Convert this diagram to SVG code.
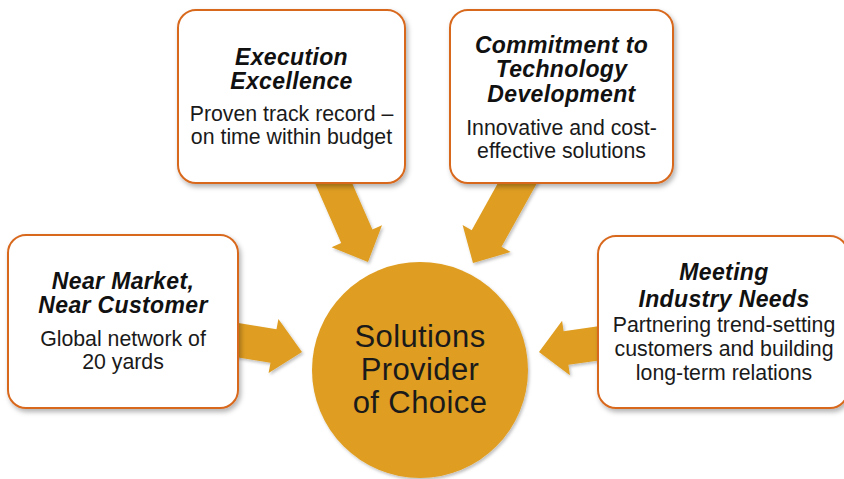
<svg xmlns="http://www.w3.org/2000/svg" width="844" height="479" viewBox="0 0 844 479">
  <defs>
    <filter id="sh" x="-10%" y="-10%" width="125%" height="130%">
      <feDropShadow dx="2" dy="3" stdDeviation="2.5" flood-color="#000" flood-opacity="0.3"/>
    </filter>
    <filter id="ash" x="-20%" y="-20%" width="140%" height="140%">
      <feDropShadow dx="1.5" dy="2" stdDeviation="1.5" flood-color="#000" flood-opacity="0.25"/>
    </filter>
    <style>
      .box { fill: #ffffff; stroke: #D8691F; stroke-width: 2; filter: url(#sh); }
      .arrow { fill: #DF9D20; filter: url(#ash); }
      .hub { fill: #DF9D20; filter: url(#ash); }
      .title { font-family: "Liberation Sans", Arial, sans-serif; font-weight: bold; font-style: italic; font-size: 23px; letter-spacing: 0.35px; fill: #111; text-anchor: middle; }
      .body { font-family: "Liberation Sans", Arial, sans-serif; font-size: 21.3px; fill: #1a1a1a; text-anchor: middle; }
      .hubtext { font-family: "Liberation Sans", Arial, sans-serif; font-size: 31px; letter-spacing: 0.4px; fill: #1a1a1a; text-anchor: middle; }
    </style>
  </defs>
  <rect width="844" height="479" fill="#ffffff"/>

  <g id="hub">
    <circle class="hub" cx="420" cy="370" r="108"/>
    <text class="hubtext" x="420" y="347">Solutions</text>
    <text class="hubtext" x="420" y="380">Provider</text>
    <text class="hubtext" x="420" y="413">of Choice</text>
  </g>

  <g id="connectors">
    <polygon class="arrow" points="311.9,176.1 343.1,162.5 372.4,229.5 382,225.3 368,262 331.6,247.3 341.2,243.1"/>
    <polygon class="arrow" points="509.9,161.6 539.7,178.2 501.5,246.8 510.6,251.9 473,263 462.6,225.1 471.7,230.2"/>
    <polygon class="arrow" points="226.2,321.1 276.5,329.3 278.4,319 302,352 268.6,373 270.5,362.7 220.2,354.5"/>
    <polygon class="arrow" points="610.4,324.6 563.6,331.2 562.1,320.8 539,352 569.9,375.2 568.4,364.8 615.3,358.2"/>
  </g>

  <g id="execution">
    <rect class="box" x="178" y="10" width="227" height="173" rx="18"/>
    <text class="title" x="291.5" y="65">Execution</text>
    <text class="title" x="291.5" y="89">Excellence</text>
    <text class="body" x="291.5" y="121">Proven track record –</text>
    <text class="body" x="291.5" y="144">on time within budget</text>
  </g>

  <g id="technology">
    <rect class="box" x="450" y="10" width="223" height="173" rx="18"/>
    <text class="title" x="561.5" y="53">Commitment to</text>
    <text class="title" x="561.5" y="77">Technology</text>
    <text class="title" x="561.5" y="102">Development</text>
    <text class="body" x="561.5" y="135">Innovative and cost-</text>
    <text class="body" x="561.5" y="158">effective solutions</text>
  </g>

  <g id="market">
    <rect class="box" x="8" y="235" width="230" height="173" rx="18"/>
    <text class="title" x="123" y="289">Near Market,</text>
    <text class="title" x="123" y="313">Near Customer</text>
    <text class="body" x="123" y="346">Global network of</text>
    <text class="body" x="123" y="369">20 yards</text>
  </g>

  <g id="industry">
    <rect class="box" x="598" y="236" width="250" height="172" rx="18"/>
    <text class="title" x="724" y="280">Meeting</text>
    <text class="title" x="724" y="307">Industry Needs</text>
    <text class="body" x="724" y="332">Partnering trend-setting</text>
    <text class="body" x="724" y="356">customers and building</text>
    <text class="body" x="724" y="380">long-term relations</text>
  </g>
</svg>
